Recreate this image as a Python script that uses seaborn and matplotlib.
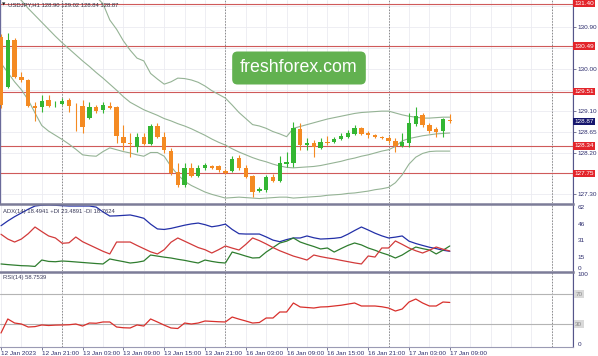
import numpy as np
import pandas as pd
import matplotlib
matplotlib.use("Agg")
import matplotlib.pyplot as plt
import matplotlib.transforms as mtransforms
import seaborn as sns

# ---------------- data ----------------
opens = [130.68, 129.61, 130.62, 129.82, 129.76, 129.20, 129.18, 129.33, 129.19, 129.24,
         129.33, 129.20, 129.20, 128.94, 129.18, 129.11, 129.20, 129.18, 128.53, 128.40,
         128.32, 128.53, 128.38, 128.77, 128.53, 128.23, 127.78, 127.50, 127.87, 127.70,
         127.87, 127.91, 127.91, 127.80, 127.80, 128.08, 127.87, 127.70, 127.37, 127.39,
         127.67, 127.59, 127.96, 127.97, 128.71, 128.36, 128.40, 128.30, 128.43, 128.43,
         128.49, 128.53, 128.60, 128.73, 128.62, 128.58, 128.53, 128.51, 128.45, 128.34,
         128.40, 128.81, 129.01, 128.79, 128.71, 128.66, 128.90]
highs = [130.75, 130.77, 130.66, 129.93, 129.78, 129.29, 129.44, 129.44, 129.31, 129.37,
         129.37, 129.26, 129.33, 129.29, 129.22, 129.29, 129.29, 129.20, 128.79, 128.62,
         128.62, 128.62, 128.81, 128.83, 128.64, 128.30, 127.97, 127.97, 127.97, 127.93,
         127.97, 127.93, 127.93, 127.84, 128.12, 128.15, 127.93, 127.72, 127.46, 127.72,
         127.74, 128.12, 128.21, 128.86, 128.83, 128.51, 128.47, 128.51, 128.56, 128.53,
         128.62, 128.68, 128.79, 128.75, 128.66, 128.60, 128.56, 128.56, 128.51, 128.62,
         129.05, 129.18, 129.05, 128.83, 128.75, 128.94, 129.02]
lows = [129.15, 129.59, 129.80, 129.72, 129.18, 128.88, 129.07, 129.18, 129.17, 129.22,
        129.07, 128.66, 128.62, 128.92, 129.05, 129.05, 129.14, 128.40, 128.25, 128.10,
        128.21, 128.36, 128.36, 128.51, 128.19, 127.72, 127.46, 127.46, 127.67, 127.67,
        127.82, 127.85, 127.78, 127.74, 127.78, 127.82, 127.65, 127.24, 127.35, 127.35,
        127.57, 127.57, 127.89, 127.89, 128.25, 128.25, 128.10, 128.28, 128.36, 128.40,
        128.47, 128.51, 128.58, 128.58, 128.51, 128.51, 128.49, 128.40, 128.21, 128.32,
        128.32, 128.77, 128.75, 128.62, 128.53, 128.53, 128.84]
closes = [129.22, 130.62, 129.82, 129.76, 129.20, 129.16, 129.31, 129.20, 129.21, 129.31,
          129.20, 129.19, 128.75, 129.18, 129.09, 129.22, 129.16, 128.55, 128.40, 128.38,
          128.53, 128.38, 128.77, 128.53, 128.25, 127.76, 127.50, 127.87, 127.70, 127.87,
          127.93, 127.87, 127.82, 127.76, 128.06, 127.87, 127.67, 127.35, 127.42, 127.67,
          127.59, 127.97, 127.99, 128.73, 128.36, 128.40, 128.32, 128.43, 128.40, 128.49,
          128.56, 128.62, 128.73, 128.60, 128.58, 128.53, 128.51, 128.45, 128.34, 128.43,
          128.83, 128.99, 128.79, 128.66, 128.64, 128.92, 128.87]

bb_upper = [133.3, 133.2, 133.1, 133.0, 132.9, 132.75, 132.6, 132.45, 132.3, 132.15,
            132.0, 131.85, 131.75, 131.65, 131.55, 131.40, 131.05, 130.85, 130.6, 130.4,
            130.23, 130.17, 129.9, 129.78, 129.67, 129.72, 129.80, 129.79, 129.76, 129.71,
            129.63, 129.53, 129.45, 129.37, 129.22, 129.06, 128.93, 128.80, 128.77, 128.72,
            128.65, 128.60, 128.54, 128.72, 128.76, 128.80, 128.84, 128.88, 128.92, 128.95,
            128.98, 129.01, 129.04, 129.06, 129.07, 129.08, 129.09, 129.09, 129.05, 129.01,
            128.98, 128.96, 128.94, 128.94, 128.95, 128.96, 128.96]
bb_middle = [131.9, 131.8, 131.6, 131.47, 131.3, 131.15, 131.0, 130.85, 130.7, 130.56,
             130.43, 130.3, 130.17, 130.05, 129.92, 129.80, 129.67, 129.54, 129.40, 129.28,
             129.20, 129.12, 129.06, 129.00, 128.93, 128.88, 128.82, 128.77, 128.71, 128.64,
             128.57, 128.49, 128.42, 128.36, 128.28, 128.21, 128.15, 128.09, 128.04, 128.00,
             127.95, 127.91, 127.88, 127.87, 127.88, 127.89, 127.90, 127.92, 127.95, 127.98,
             128.01, 128.05, 128.08, 128.12, 128.15, 128.19, 128.23, 128.26, 128.33, 128.45,
             128.50, 128.53, 128.56, 128.58, 128.60, 128.61, 128.62]
bb_lower = [130.12, 129.92, 129.72, 129.55, 129.33, 129.05, 128.78, 128.66, 128.57, 128.48,
            128.38, 128.27, 128.15, 128.13, 128.12, 128.22, 128.30, 128.26, 128.22, 128.19,
            128.15, 128.12, 128.20, 128.20, 128.12, 127.90, 127.72, 127.58, 127.49, 127.42,
            127.35, 127.30, 127.26, 127.22, 127.23, 127.24, 127.23, 127.22, 127.21, 127.22,
            127.23, 127.24, 127.24, 127.22, 127.23, 127.24, 127.25, 127.26, 127.28, 127.29,
            127.30, 127.32, 127.33, 127.35, 127.37, 127.40, 127.42, 127.45, 127.55, 127.72,
            127.95, 128.10, 128.18, 128.22, 128.23, 128.23, 128.23]

adx_main = [42.5, 47, 51, 54.5, 58, 61, 61.8, 62, 61.7, 61.3,
            61, 61, 61, 61, 60, 55.5, 51.6, 51.8, 52.2, 52.6,
            51.2, 49.5, 44, 39.5, 39, 40, 41.5, 43, 44.2, 45,
            43.5, 41.5, 42.5, 44, 39, 35, 34.7, 34.7, 34.7, 32,
            29, 27.5, 29.5, 31, 31, 32.9, 31.2, 30, 30.3, 30.7,
            31.5, 34.5, 38, 41.3, 38.5, 35.5, 33, 31, 31.8, 32.9,
            28, 25.8, 24, 22.3, 21, 19.5, 18.49]
plus_di = [6.6, 6, 5.5, 5, 4.8, 4.3, 10.3, 9, 8.7, 9.4,
           9, 8.5, 8, 7.5, 7, 6.6, 11.3, 10, 8.8, 7.5,
           8.2, 9.4, 15, 14, 13, 12.2, 11, 10, 8.7, 7.5,
           10.3, 9, 8, 7.5, 17.8, 16, 14, 12.2, 12.5, 17.8,
           22, 26.3, 28, 31, 27.2, 25, 23, 20.7, 21.6, 17.8,
           21, 24, 26.3, 24.5, 21.6, 19.5, 17, 15, 12.2, 15,
           19, 22.5, 21, 19.7, 16, 19.5, 23.49]
minus_di = [34.5, 30, 27.2, 30, 35, 41.3, 37, 32.9, 31, 26,
            26.5, 31.9, 27.5, 24.5, 21.5, 18.5, 16, 27.2, 27.2, 27.2,
            24, 21, 18, 16, 20, 27, 31, 28, 25, 22,
            20, 16.9, 20, 23.5, 21.5, 19.7, 25, 31, 28.5, 25.4,
            22, 19, 16.5, 14, 12.2, 10.3, 15, 13.5, 12.3, 11.3,
            10, 8.8, 7.6, 6.6, 14.1, 13.1, 21.6, 21.6, 28.2, 25,
            21.6, 19, 16.9, 19.5, 22.5, 20.5, 18.76]
rsi = [18, 36.7, 31.3, 30, 26, 26.5, 28.7, 28, 28.5, 28.7,
       29, 30, 27.3, 31.3, 31, 32.7, 32.7, 26, 25, 24.7,
       28.7, 27.3, 36.7, 32.7, 28.5, 24.7, 24, 31.3, 30, 31.3,
       34, 33.5, 33, 32.7, 39.3, 36.5, 34, 31.3, 32, 38,
       38, 46, 46, 58, 52.7, 52, 51.3, 52.7, 53, 54,
       55, 56.5, 58, 54, 54, 54, 53, 51.3, 47.3, 50,
       59.3, 63.3, 58, 54, 54, 59.3, 58.75]

label_bars = [0, 6, 12, 18, 24, 30, 36, 42, 48, 54, 60, 66]
time_labels = ["12 Jan 2023", "12 Jan 21:00", "13 Jan 03:00", "13 Jan 09:00",
               "13 Jan 15:00", "13 Jan 21:00", "16 Jan 03:00", "16 Jan 09:00",
               "16 Jan 15:00", "16 Jan 21:00", "17 Jan 03:00", "17 Jan 09:00"]
day_breaks = [9, 33, 57, 81]
sr_levels = [131.40, 130.49, 129.51, 128.34, 127.75]
sr_labels = ["131.40", "130.49", "129.51", "128.34", "127.75"]
price_ticks = [127.30, 127.75, 128.20, 128.65, 129.10, 129.55, 130.00, 130.45, 130.90, 131.35]
price_tick_labels = ["127.30", "", "128.20", "128.65", "129.10", "", "130.00", "", "130.90", ""]
last_price = 128.87
adx_ticks = [62, 46, 31, 15, 0]
rsi_ticks = [100, 70, 30, 0]
rsi_levels = [70, 30]

title_text = "USDJPY,H1 128.90 129.02 128.84 128.87"
adx_text = "ADX(14) 18.4941 +DI 23.4891 -DI 18.7624"
rsi_text = "RSI(14) 58.7539"

# ---------------- style ----------------
sns.set_theme(style="white")
plt.rcParams["font.family"] = ["Liberation Sans", "DejaVu Sans"]

W, H = 598, 356
NAVY = "#2e2e6e"
GRID = "#ebebf1"
SEP = "#7c7c98"


def rect(x0, y0, x1, y1):
    return [x0 / W, 1 - y1 / H, (x1 - x0) / W, (y1 - y0) / H]


fig = plt.figure(figsize=(W / 100, H / 100), dpi=100)
fig.patch.set_facecolor("white")
ax = fig.add_axes(rect(0, 0, 573, 203))
ax_adx = fig.add_axes(rect(0, 204, 573, 271), sharex=ax)
ax_rsi = fig.add_axes(rect(0, 271.5, 573, 346.5), sharex=ax)

n = len(closes)
bars = np.arange(n)
df = pd.DataFrame({"bar": bars, "open": opens, "high": highs, "low": lows, "close": closes,
                   "upper": bb_upper, "middle": bb_middle, "lower": bb_lower,
                   "adx": adx_main, "pdi": plus_di, "mdi": minus_di, "rsi": rsi})

# ---------------- main panel ----------------
o = df["open"].to_numpy()
c = df["close"].to_numpy()
up = c >= o
cols = np.where(up, "#33b633", "#f48a22")
for lvl in sr_levels:
    ax.axhline(lvl, color="#cf5a5a", lw=0.8, zorder=2)
ax.vlines(bars, df["low"], df["high"], colors=cols, lw=0.8, zorder=3)
ax.bar(bars, np.maximum(np.abs(c - o), 0.012), bottom=np.minimum(o, c), width=0.64,
       color=cols, linewidth=0, zorder=4)
for col in ["upper", "middle", "lower"]:
    sns.lineplot(data=df, x="bar", y=col, ax=ax, color="#95b395", lw=0.8, legend=False, zorder=2.5)

ax.set_ylim(127.114, 131.48)
ax.set_xlim(-0.147, 84.12)
ax.yaxis.tick_right()
ax.set_yticks(price_ticks, price_tick_labels)
ax.tick_params(axis="y", right=True, left=False, length=2, width=0.6, color="#666688",
               labelsize=4.6, labelcolor=NAVY, pad=1.5)
ax.set_xlabel("")
ax.set_ylabel("")

trans = mtransforms.blended_transform_factory(ax.transAxes, ax.transData)
for lvl, s in zip(sr_levels, sr_labels):
    ax.text(1.0025, lvl, s, transform=trans, ha="left", va="center", fontsize=4.6,
            color="white", clip_on=False, zorder=10,
            bbox=dict(boxstyle="square,pad=0.18", fc="#e3252b", ec="none"))
ax.text(1.0025, last_price, f"{last_price:.2f}", transform=trans, ha="left", va="center",
        fontsize=4.6, color="white", clip_on=False, zorder=10,
        bbox=dict(boxstyle="square,pad=0.18", fc="#17176e", ec="none"))

# ---------------- ADX panel ----------------
sns.lineplot(data=df, x="bar", y="adx", ax=ax_adx, color="#2330a8", lw=0.9, legend=False)
sns.lineplot(data=df, x="bar", y="pdi", ax=ax_adx, color="#2f7d2f", lw=0.9, legend=False)
sns.lineplot(data=df, x="bar", y="mdi", ax=ax_adx, color="#d23a3a", lw=0.9, legend=False)
ax_adx.set_ylim(0, 62.9)
ax_adx.set_yticks([])
ax_adx.set_xlabel("")
ax_adx.set_ylabel("")
ta = mtransforms.blended_transform_factory(ax_adx.transAxes, ax_adx.transData)
for v in adx_ticks:
    ax_adx.text(1.008, v, str(v), transform=ta, ha="left", va="bottom" if v == 0 else "top",
                fontsize=4.6, color=NAVY, clip_on=False)
ax_adx.text(0.005, 0.93, adx_text, transform=ax_adx.transAxes, ha="left", va="top",
            fontsize=4.2, color="#3a3a5a")

# ---------------- RSI panel ----------------
for lvl in rsi_levels:
    ax_rsi.axhline(lvl, color="#b4b4b4", lw=0.8)
sns.lineplot(data=df, x="bar", y="rsi", ax=ax_rsi, color="#d8302c", lw=0.9, legend=False)
ax_rsi.set_ylim(0, 100)
ax_rsi.set_yticks([])
ax_rsi.set_xlabel("")
ax_rsi.set_ylabel("")
tr = mtransforms.blended_transform_factory(ax_rsi.transAxes, ax_rsi.transData)
for v in rsi_ticks:
    if v in rsi_levels:
        ax_rsi.text(1.004, v, str(v), transform=tr, ha="left", va="center", fontsize=4.6,
                    color="#8a8a8a", clip_on=False,
                    bbox=dict(boxstyle="square,pad=0.18", fc="#d9d9d9", ec="none"))
    else:
        ax_rsi.text(1.008, v, str(v), transform=tr, ha="left",
                    va="bottom" if v == 0 else "top", fontsize=4.6, color=NAVY, clip_on=False)
ax_rsi.text(0.005, 0.95, rsi_text, transform=ax_rsi.transAxes, ha="left", va="top",
            fontsize=4.2, color="#3a3a5a")

# ---------------- shared x / grid / separators ----------------
ax_rsi.set_xticks(label_bars, time_labels)
ax_rsi.set_xticks(np.arange(0, 85, 3), minor=True)
for lbl in ax_rsi.get_xticklabels():
    lbl.set_ha("left")
ax_rsi.tick_params(axis="x", which="major", bottom=True, length=2, width=0.6, color="#666688",
                   labelsize=4.6, labelcolor=NAVY, pad=1.2)
ax_rsi.tick_params(axis="x", which="minor", bottom=False)
for a in (ax, ax_adx):
    a.tick_params(axis="x", which="both", bottom=False, labelbottom=False)

for a in (ax, ax_adx, ax_rsi):
    a.set_facecolor("white")
    a.grid(True, which="both", axis="x", color=GRID, lw=0.6)
    a.set_axisbelow(True)
    for b in day_breaks:
        a.axvline(b, color="#8a8a8a", lw=0.7, ls=(0, (1.5, 1.5)), zorder=1.5)
    for s in a.spines.values():
        s.set_visible(False)
    a.spines["right"].set_visible(True)
    a.spines["right"].set_color("#55558a")
    a.spines["right"].set_linewidth(0.8)
ax.grid(True, axis="y", color=GRID, lw=0.6)
ax.spines["left"].set_visible(True)
ax.spines["left"].set_color("#6a6a9a")
ax.spines["left"].set_linewidth(0.8)
for a in (ax_adx, ax_rsi):
    a.spines["top"].set_visible(True)
    a.spines["top"].set_color(SEP)
    a.spines["top"].set_linewidth(1.8)
ax_rsi.spines["bottom"].set_visible(True)
ax_rsi.spines["bottom"].set_color("#9a9ab4")
ax_rsi.spines["bottom"].set_linewidth(0.8)

# ---------------- titles / watermark ----------------
fig.text(2 / W, 1 - 4.5 / H, "\u25BC", fontsize=3.2, color="#222222", ha="left", va="center",
         family=["DejaVu Sans"])
fig.text(8 / W, 1 - 4.5 / H, title_text, fontsize=4.2, color="#333344", ha="left", va="center")
fig.text(299 / W, 1 - 68 / H, "freshforex.com", fontsize=12.8, color="white", ha="center",
         va="center", bbox=dict(boxstyle="round,pad=0.45,rounding_size=0.3", fc="#62b150", ec="none"))

fig.savefig("out.png", dpi=100)
